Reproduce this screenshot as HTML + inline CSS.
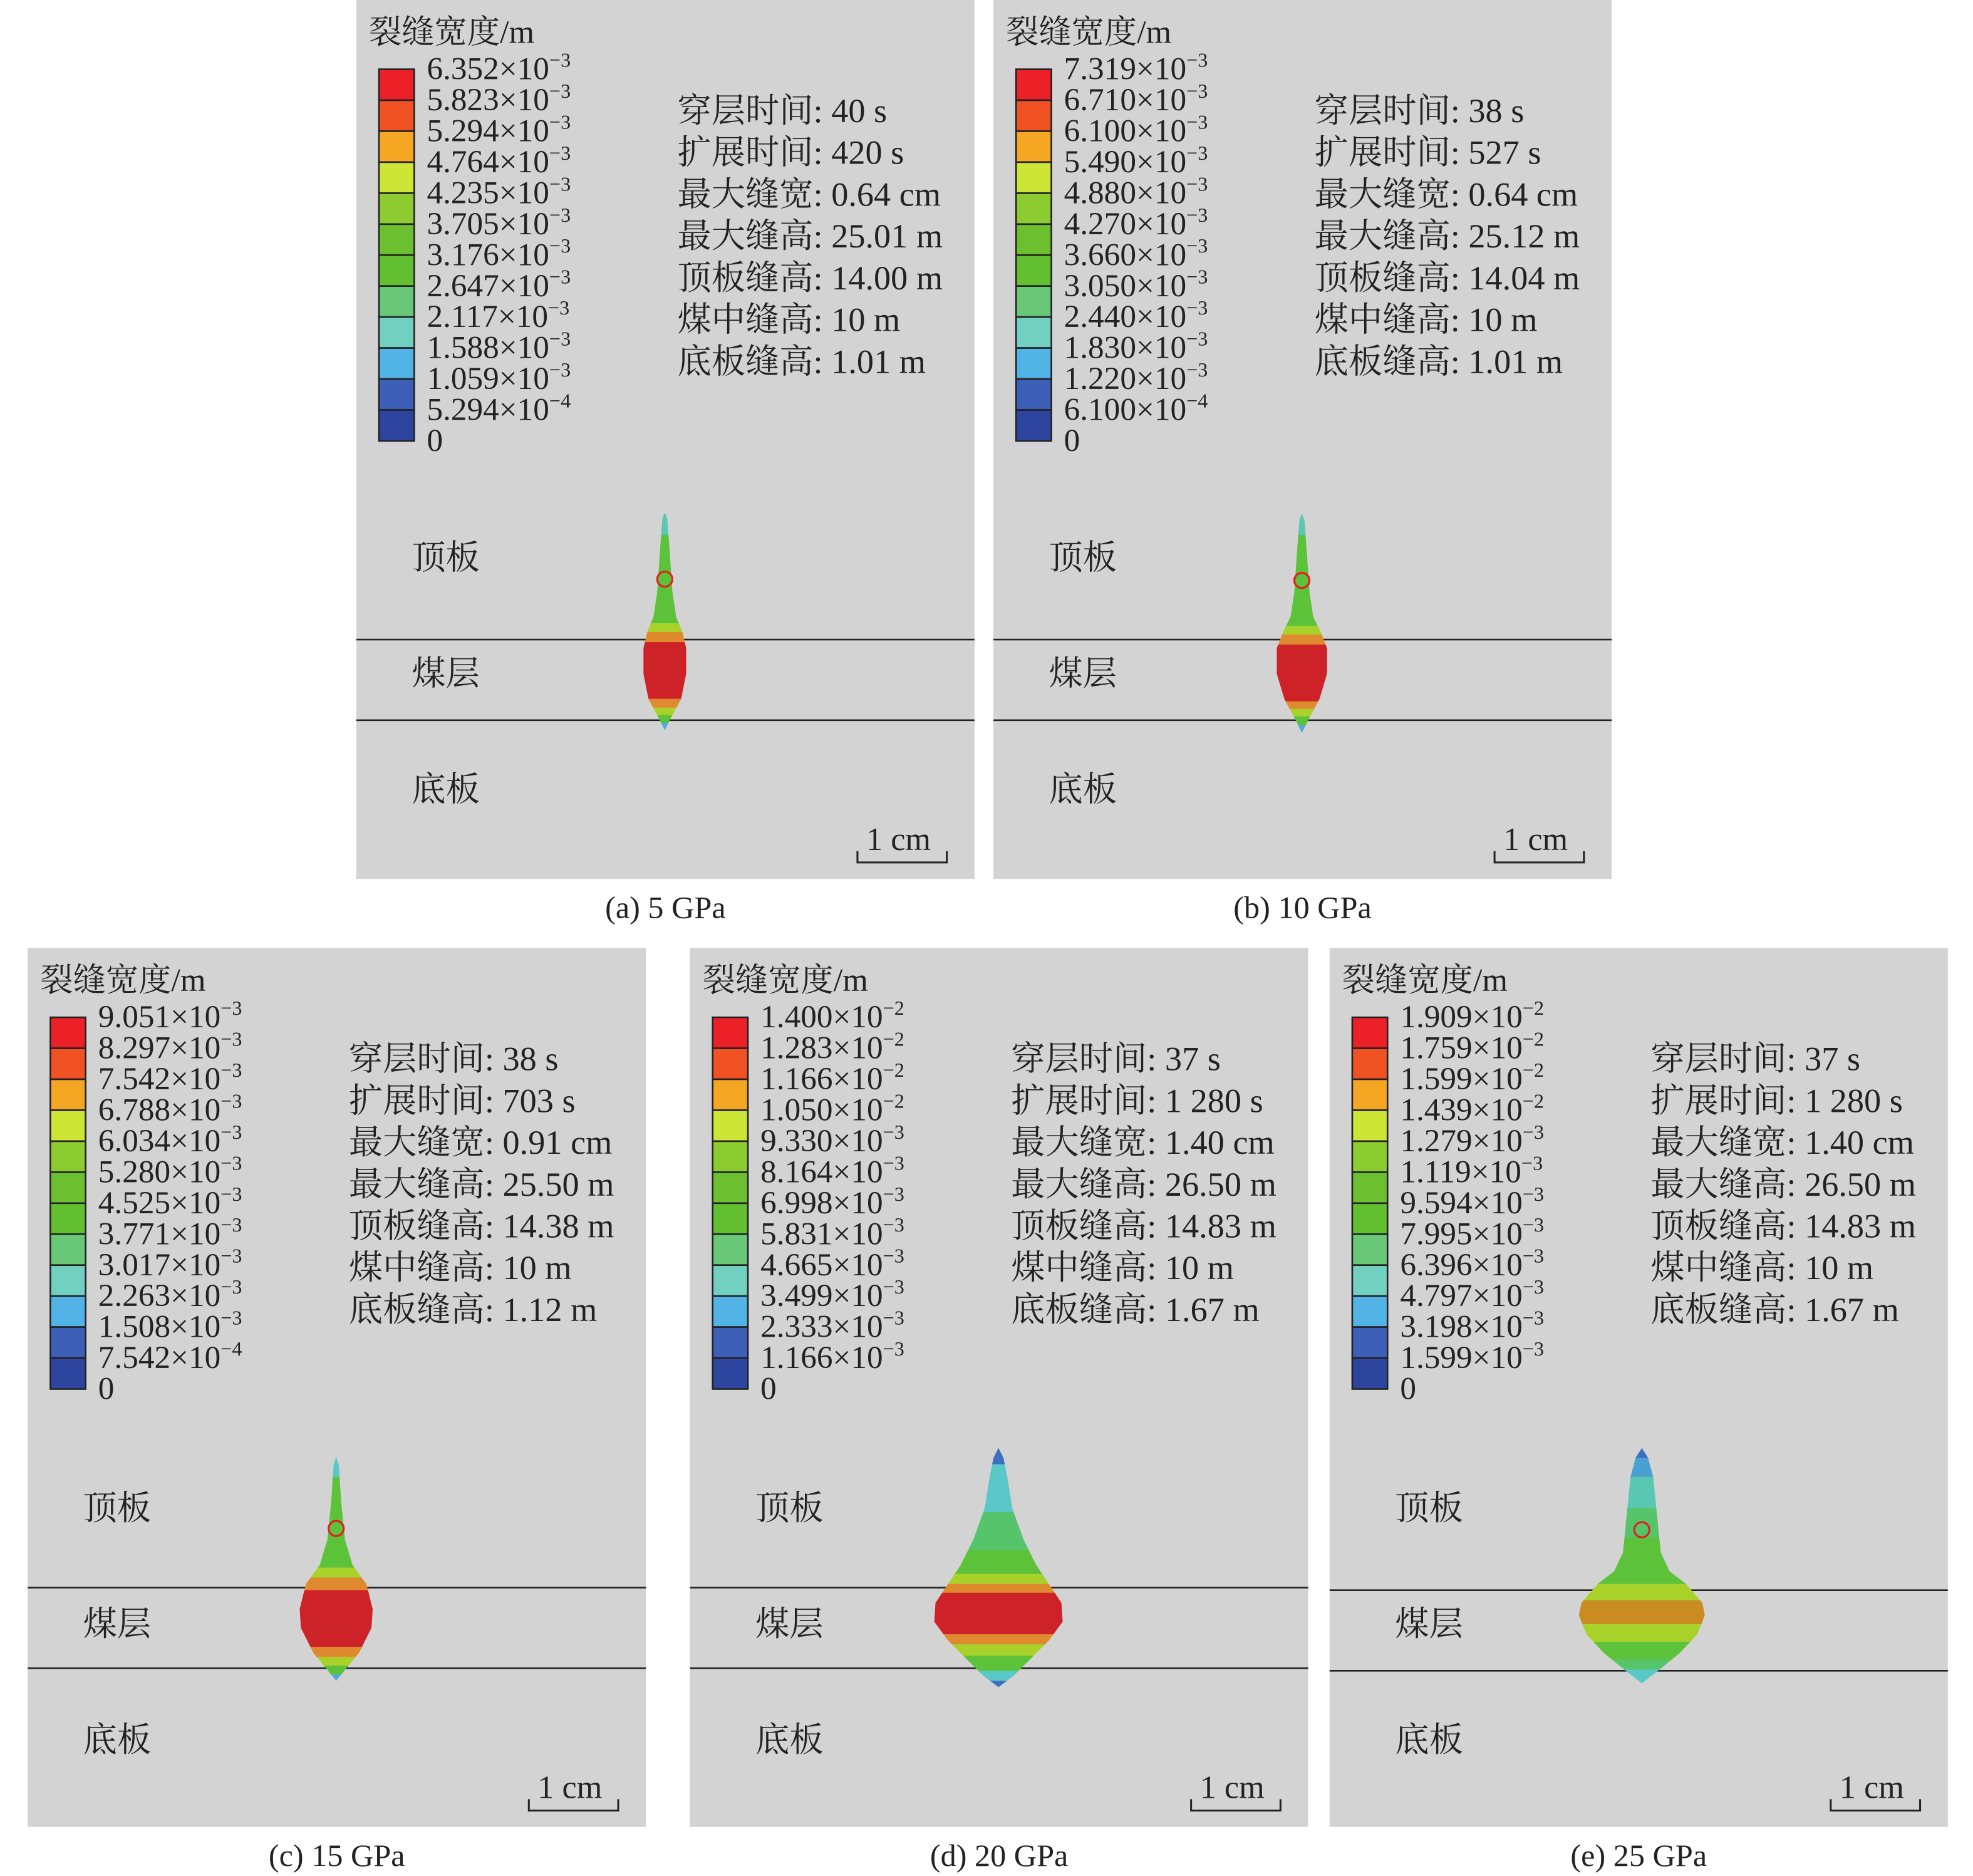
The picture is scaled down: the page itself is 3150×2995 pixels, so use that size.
<!DOCTYPE html>
<html><head><meta charset="utf-8"><style>
html,body{margin:0;padding:0;background:#fff;}
svg{display:block;}
text{font-family:"Liberation Serif","Noto Serif CJK SC",serif;fill:#222;}
</style></head><body>
<svg id="fig" width="3150" height="2995" viewBox="0 0 1567 1490" preserveAspectRatio="none" xmlns="http://www.w3.org/2000/svg"></svg>
<script>
// ---- data ----
const panelIds = ['a','b','c','d','e'];
const captions = ['(a) 5 GPa','(b) 10 GPa','(c) 15 GPa','(d) 20 GPa','(e) 25 GPa'];
const legendMantissa = [
 ['6.352','5.823','5.294','4.764','4.235','3.705','3.176','2.647','2.117','1.588','1.059','5.294','0'],
 ['7.319','6.710','6.100','5.490','4.880','4.270','3.660','3.050','2.440','1.830','1.220','6.100','0'],
 ['9.051','8.297','7.542','6.788','6.034','5.280','4.525','3.771','3.017','2.263','1.508','7.542','0'],
 ['1.400','1.283','1.166','1.050','9.330','8.164','6.998','5.831','4.665','3.499','2.333','1.166','0'],
 ['1.909','1.759','1.599','1.439','1.279','1.119','9.594','7.995','6.396','4.797','3.198','1.599','0']];
const legendExp = [
 ['-3','-3','-3','-3','-3','-3','-3','-3','-3','-3','-3','-4',''],
 ['-3','-3','-3','-3','-3','-3','-3','-3','-3','-3','-3','-4',''],
 ['-3','-3','-3','-3','-3','-3','-3','-3','-3','-3','-3','-4',''],
 ['-2','-2','-2','-2','-3','-3','-3','-3','-3','-3','-3','-3',''],
 ['-2','-2','-2','-2','-3','-3','-3','-3','-3','-3','-3','-3','']];
const legendColors = ['#ec2027','#f05223','#f5a623','#cde534','#8ccc30','#6cc030','#62bf30','#68c878','#72d0c0','#52b4e6','#3d5fb8','#2e45a0'];
const infoLabels = ['穿层时间','扩展时间','最大缝宽','最大缝高','顶板缝高','煤中缝高','底板缝高'];
const infoValues = [
 ['40 s','420 s','0.64 cm','25.01 m','14.00 m','10 m','1.01 m'],
 ['38 s','527 s','0.64 cm','25.12 m','14.04 m','10 m','1.01 m'],
 ['38 s','703 s','0.91 cm','25.50 m','14.38 m','10 m','1.12 m'],
 ['37 s','1 280 s','1.40 cm','26.50 m','14.83 m','10 m','1.67 m'],
 ['37 s','1 280 s','1.40 cm','26.50 m','14.83 m','10 m','1.67 m']];
// fracture profiles: [relY, halfWidth]
const profiles = [
 [[407,0],[412,2],[440,4],[470,6],[490,9],[502,14],[515,17],[535,17],[555,13],[568,6],[580,0]],
 [[408,0],[413,2],[440,4],[470,6],[490,9],[502,15],[515,20],[535,20],[555,14],[570,6],[582,0]],
 [[404,0],[410,2],[440,4],[470,7],[490,13],[505,24],[525,29],[540,28],[560,18],[572,8],[582,0]],
 [[397,0],[405,4],[420,7],[445,11],[470,20],[490,30],[505,40],[520,50],[535,51],[550,40],[565,25],[578,12],[587,0]],
 [[397,0],[405,5],[420,9],[450,12],[480,15],[495,22],[505,35],[520,48],[530,50],[545,44],[560,30],[573,14],[584,0]]];
// colour bands: [relYstart, relYend, colour]
const bands = [
 [[407,425,'#5ac8b0'],[425,495,'#5bc23a'],[495,502,'#a8d22a'],[502,510,'#e08a30'],[510,555,'#cc2228'],[555,562,'#e08a30'],[562,568,'#a8d22a'],[568,574,'#5bc23a'],[574,580,'#52a8e0']],
 [[408,425,'#5ac8b0'],[425,497,'#5bc23a'],[497,504,'#a8d22a'],[504,512,'#e08a30'],[512,557,'#cc2228'],[557,563,'#e08a30'],[563,569,'#a8d22a'],[569,576,'#5bc23a'],[576,582,'#52a8e0']],
 [[404,420,'#5ac8c8'],[420,492,'#5bc23a'],[492,500,'#a8d22a'],[500,510,'#e08a30'],[510,555,'#cc2228'],[555,563,'#e08a30'],[563,570,'#a8d22a'],[570,577,'#5bc23a'],[577,582,'#52a8e0']],
 [[397,410,'#3d6fc0'],[410,448,'#5ac8c8'],[448,478,'#56c46a'],[478,497,'#5bc23a'],[497,505,'#a8d22a'],[505,512,'#e08a30'],[512,545,'#cc2228'],[545,553,'#e08a30'],[553,562,'#a8d22a'],[562,574,'#5bc23a'],[574,582,'#5ac8c8'],[582,587,'#3d6fc0']],
 [[397,405,'#3d6fc0'],[405,420,'#4aa0d0'],[420,445,'#5ac8b0'],[445,468,'#56c46a'],[468,505,'#5bc23a'],[505,518,'#a8d22a'],[518,537,'#c88c22'],[537,551,'#a8d22a'],[551,565,'#5bc23a'],[565,573,'#56c46a'],[573,584,'#5ac8c8']]];
const circleRelY = [460,461,461,null,462];
</script>
<script>
const NS='http://www.w3.org/2000/svg';
const svg=document.getElementById('fig');
const panelX=[283,789,22,548,1056], panelY=[0,0,753,753,753];
const PW=491, PH=698;
function el(tag,attrs,parent){const e=document.createElementNS(NS,tag);for(const k in attrs)e.setAttribute(k,attrs[k]);(parent||svg).appendChild(e);return e;}
panelIds.forEach((id,p)=>{
  const x0=panelX[p], y0=panelY[p];
  const g=el('g',{transform:`translate(${x0},${y0})`});
  
  
  const bg=el('rect',{x:0,y:0,width:PW,height:PH,fill:'#d3d3d3'},g);
  
  
  const t=el('text',{x:10,y:34,'font-size':26},g); t.textContent='裂缝宽度/m';
  
  
  const cellH=24.6, by=55, bx=18;
  legendColors.forEach((c,i)=>{
    const r=el('rect',{x:bx,y:by+i*cellH,width:28,height:cellH,fill:c,stroke:'#222','stroke-width':1.3},g);
    
    
  });
  legendMantissa[p].forEach((m,i)=>{
    const tx=el('text',{x:56,y:by+i*cellH+8,'font-size':25.5},g);
    
    
    if(legendExp[p][i]){
      tx.appendChild(document.createTextNode(m+'×10'));
      const s=el('tspan',{dy:-10,'font-size':16},tx); s.textContent='−'+legendExp[p][i].slice(1);
    } else tx.textContent=m;
  });
  infoLabels.forEach((lab,i)=>{
    const tx=el('text',{x:255,y:97+i*33.2,'font-size':27},g);
    tx.textContent=lab+': '+infoValues[p][i];
    
    
  });
  const ly=(p===4)?[510,574]:[508,572];
  ly.forEach(yy=>{const l=el('line',{x1:0,x2:PW,y1:yy,y2:yy,stroke:'#222','stroke-width':1.3},g);
    
    });
  [['顶板',452],['煤层',544],['底板',636]].forEach(([s,yy])=>{
    const tx=el('text',{x:p>=3?52:44,y:yy+(p>=2?2:0),'font-size':27},g); tx.textContent=s;
    
    });
  const cx=245+(p===4?3:0);
  const prof=profiles[p];
  const left=prof.map(([yy,w])=>`${cx-w},${yy}`), right=prof.slice().reverse().map(([yy,w])=>`${cx+w},${yy}`);
  const cp=el('clipPath',{id:'clip'+id},g);
  el('polygon',{points:left.concat(right).join(' ')},cp);
  const fg=el('g',{'clip-path':`url(#clip${id})`},g);
  
  
  bands[p].forEach(([a,b,c])=>{
    const r=el('rect',{x:cx-60,y:a,width:120,height:b-a+0.5,fill:c},fg);
    
    
  });
  if(circleRelY[p]!==null){
    const c=el('ellipse',{cx:cx,cy:circleRelY[p],rx:6,ry:6,fill:'none',stroke:'#e02020','stroke-width':1.6},g);
    
    
  }
  const sb=el('g',{},g);
  
  
  el('polyline',{points:'398,676 398,685 469,685 469,676',fill:'none',stroke:'#222','stroke-width':1.5},sb);
  const st=el('text',{x:405,y:675,'font-size':26},sb); st.textContent='1 cm';
  const cap=el('text',{x:x0+PW/2,y:y0+729,'font-size':25,'text-anchor':'middle'});
  cap.textContent=captions[p];
  
  
});
</script>
</body></html>
